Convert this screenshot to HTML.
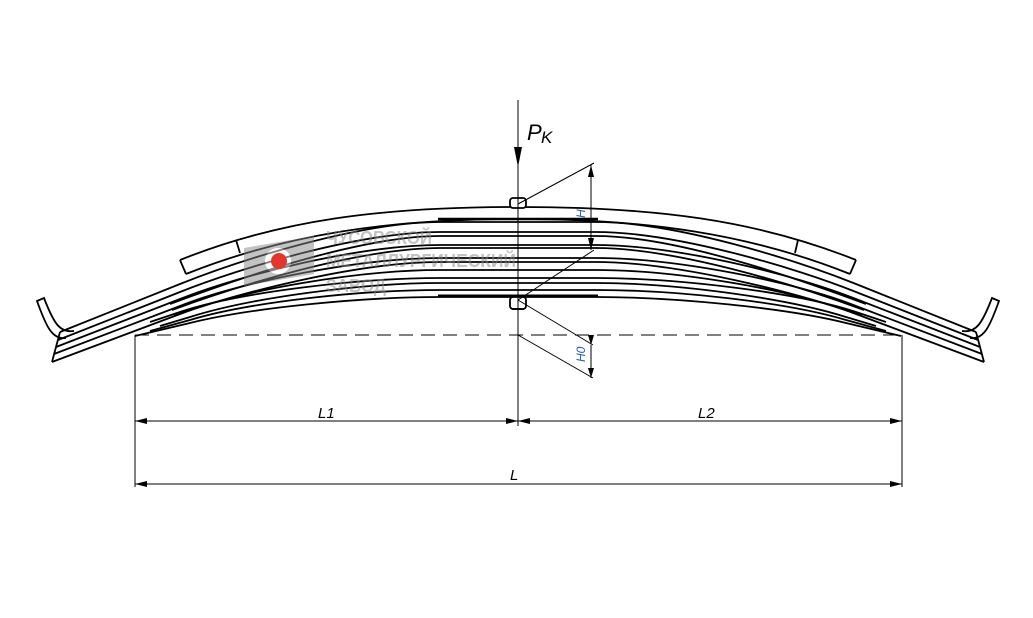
<!DOCTYPE html>
<html><head><meta charset="utf-8"><style>
html,body{margin:0;padding:0;background:#fff;width:1033px;height:618px;overflow:hidden}
svg{display:block}
text{font-family:"Liberation Sans",sans-serif;font-style:italic}
text.wm{font-style:normal;font-weight:bold}
</style></head><body>
<svg width="1033" height="618" viewBox="0 0 1033 618" xmlns="http://www.w3.org/2000/svg">
<g fill="none" stroke="#000" stroke-width="1.8">
<!-- top rebound leaf -->
<path d="M180,260 C280,220 380,207 518,207 C656,207 756,220 856,260"/>
<path d="M186,274 C286,234 390,219 518,219 C646,219 750,234 850,274"/>
<path d="M180,260 L186,274 M856,260 L850,274"/>
<path d="M236,240 L240,253 M798,240 L795,253"/>
<!-- long leaves -->
<path d="M60,332 L180,284 C240,260 360,222 440,222 L596,222 C676,222 796,260 856,284 L976,332"/>
<path d="M58,340 L180,292 C240,268 360,232 440,232 L596,232 C676,232 796,268 856,292 L978,340"/>
<path d="M56,347 L180,299 C240,275 360,245 440,245 L596,245 C676,245 796,275 856,299 L980,347"/>
<path d="M54,354 L180,306 C240,282 360,258 440,258 L596,258 C676,258 796,282 856,306 L982,354"/>
<path d="M52,362 L180,314 C240,290 360,270 440,270 L596,270 C676,270 796,290 856,314 L984,362"/>
<!-- shorter leaves -->
<path d="M170,304 C240,278 360,236 440,236 L596,236 C676,236 796,278 866,304"/>
<path d="M172,310 C240,285 360,248 440,248 L596,248 C676,248 796,285 864,310"/>
<path d="M174,316 C240,292 360,262 440,262 L596,262 C676,262 796,292 862,316"/>
<path d="M150,322 L180,312 C240,292 360,278 440,278 L596,278 C676,278 796,292 856,312 L886,322"/>
<path d="M160,326 L190,317 C250,298 360,283 440,283 L596,283 C676,283 786,298 846,317 L876,326"/>
<path d="M150,331 L190,320 C250,302 360,290 440,290 L596,290 C676,290 786,302 846,320 L886,331"/>
<path d="M135,336 L190,323 C250,308 360,297 440,297 L596,297 C676,297 786,308 846,323 L901,336"/>
<path d="M60,332 L52,362 M984,362 L976,332"/>
<!-- eyes -->
<path d="M74,331 C60,333 54,324 44,298 L37,301 C46,326 52,340 66,338"/>
<path d="M962,331 C976,333 982,324 992,298 L999,301 C990,326 984,340 970,338"/>
<!-- plate -->
<path d="M438,296 L598,296" stroke-width="3"/>
<path d="M438,219 L598,219" stroke-width="2.5"/>
<!-- bolt -->
<rect x="510" y="198" width="16" height="10" rx="3" fill="#fff"/>
<rect x="510" y="297" width="16" height="12" rx="3" fill="#fff"/>
<path d="M512,309 L524,309"/>
</g>
<!-- watermark -->
<g opacity="0.5">
<path d="M244,248 L314,236 L314,274 L244,286Z" fill="#888"/>
<circle cx="278" cy="261" r="13" fill="#fff"/>
<text class="wm" x="326" y="244" font-size="18" fill="#888" textLength="106" lengthAdjust="spacingAndGlyphs">ЧУСОВСКОЙ</text>
<text class="wm" x="326" y="267" font-size="18" fill="#888" textLength="190" lengthAdjust="spacingAndGlyphs">МЕТАЛЛУРГИЧЕСКИЙ</text>
<text class="wm" x="326" y="292" font-size="18" fill="#888" textLength="60" lengthAdjust="spacingAndGlyphs">ЗАВОД</text>
</g>
<circle cx="279" cy="261" r="8" fill="#e8352b"/>
<g fill="none" stroke="#000" stroke-width="1">
<path d="M135,335 L902,335" stroke-dasharray="14,8"/>
<path d="M135,335 L135,487 M902,335 L902,487 M518,100 L518,426"/>
<path d="M135,421 L902,421 M135,484 L902,484"/>
<path d="M518,204 L594,163 M518,300 L594,250 M591,165 L591,250"/>
<path d="M518,300 L593,345 M518,335 L593,378 M591,345 L591,378"/>
</g>
<g fill="#000">
<path d="M518,167 L514,147 L522,147Z"/>
<path d="M135,421 l12,-3 v6Z M518,421 l-12,-3 v6Z M518,421 l12,-3 v6Z M902,421 l-12,-3 v6Z"/>
<path d="M135,484 l12,-3 v6Z M902,484 l-12,-3 v6Z"/>
<path d="M591,165 l-3,12 h6Z M591,250 l-3,-12 h6Z"/>
<path d="M591,345 l-3,-10 h6Z M591,378 l-3,-10 h6Z"/>
</g>
<text x="527" y="140" font-size="22">P</text><text x="541" y="143" font-size="17">K</text>
<text x="318" y="418" font-size="15">L1</text>
<text x="698" y="418" font-size="15">L2</text>
<text x="510" y="480" font-size="15">L</text>
<text transform="translate(585,218) rotate(-90)" font-size="12" fill="#2060b0">H</text>
<text transform="translate(585,362) rotate(-90)" font-size="12" fill="#2060b0">H0</text>
</svg>
</body></html>
